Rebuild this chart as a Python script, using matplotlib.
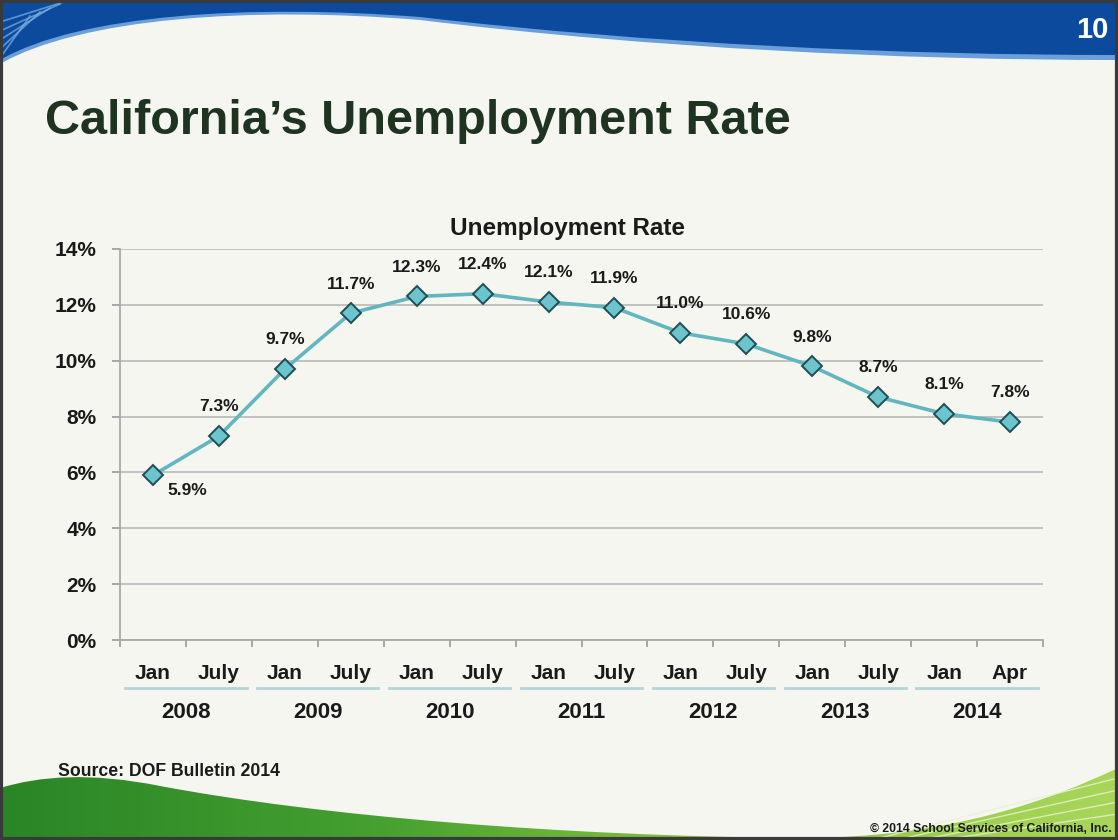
import matplotlib

matplotlib.use("Agg")

import numpy as np
import matplotlib.pyplot as plt
from matplotlib.path import Path
from matplotlib.patches import PathPatch, Rectangle
from matplotlib.colors import LinearSegmentedColormap

# data
months = ["Jan", "July", "Jan", "July", "Jan", "July", "Jan", "July",
          "Jan", "July", "Jan", "July", "Jan", "Apr"]
years = ["2008", "2009", "2010", "2011", "2012", "2013", "2014"]
rates = [5.9, 7.3, 9.7, 11.7, 12.3, 12.4, 12.1, 11.9, 11.0, 10.6, 9.8, 8.7, 8.1, 7.8]
yticks = [0, 2, 4, 6, 8, 10, 12, 14]

NARROW = ["Liberation Sans Narrow", "Liberation Sans", "DejaVu Sans"]
plt.rcParams["font.family"] = NARROW

W, H = 1118, 840
fig = plt.figure(figsize=(W / 100, H / 100), dpi=100, facecolor="#f6f6f1")

# slide decoration, in pixel coordinates
bg = fig.add_axes([0, 0, 1, 1], zorder=0)
bg.set_xlim(0, W)
bg.set_ylim(H, 0)
bg.axis("off")

M, C, L, Z = Path.MOVETO, Path.CURVE4, Path.LINETO, Path.CLOSEPOLY

# light blue under-band of the top swoosh
light = Path([(0, 0), (W, 0), (W, 60),
              (900, 60), (650, 48), (420, 20),
              (250, 6), (80, 18), (0, 64), (0, 0)],
             [M, L, L, C, C, C, C, C, C, Z])
bg.add_patch(PathPatch(light, facecolor="#6a9fda", edgecolor="none"))
blue = Path([(0, 0), (W, 0), (W, 55),
             (900, 55), (650, 44), (420, 17),
             (250, 4), (80, 14), (0, 60), (0, 0)],
            [M, L, L, C, C, C, C, C, C, Z])
bg.add_patch(PathPatch(blue, facecolor="#0c4a9e", edgecolor="none"))
for k in range(5):
    bg.plot([0, 70 - k * 10], [22 + k * 9, 0 + k * 4], color="#7fb3e6", lw=1.2, alpha=0.7)

# green bottom swoosh with a left-to-right gradient
green = Path([(0, H), (0, 788),
              (40, 776), (90, 772), (160, 786),
              (320, 816), (560, 836), (800, 838),
              (950, 838), (1050, 800), (W, 768),
              (W, H), (0, H)],
             [M, L, C, C, C, C, C, C, C, C, C, L, Z])
gpatch = PathPatch(green, facecolor="none", edgecolor="none")
bg.add_patch(gpatch)
cmap = LinearSegmentedColormap.from_list("g", ["#2a8527", "#45a030", "#8cc63f", "#a9d65a"])
grad = bg.imshow(np.linspace(0, 1, 256).reshape(1, -1), cmap=cmap, aspect="auto",
                 extent=[0, W, H, 760], zorder=1)
grad.set_clip_path(gpatch)
for k in range(4):
    bg.plot([880 + k * 25, W], [H - 2, 778 + k * 12], color="#e8f3d0", lw=1.0, alpha=0.8, zorder=2)

bg.add_patch(Rectangle((1, 1), W - 2, H - 2, facecolor="none", edgecolor="#3a3a3a", lw=3, zorder=3))

bg.text(1108, 30, "10", color="white", fontsize=21, fontweight="bold", ha="right", va="center")
bg.text(45, 134, "California\u2019s Unemployment Rate", color="#1f3321", fontsize=35,
        fontweight="bold", ha="left", va="baseline")
bg.text(567, 228, "Unemployment Rate", color="#1a1a1a", fontsize=17.5,
        fontweight="bold", ha="center", va="center")
bg.text(58, 772, "Source: DOF Bulletin 2014", color="#1a1a1a", fontsize=12.7,
        fontweight="bold", ha="left", va="center")
bg.text(1112, 829, "\u00a9 2014 School Services of California, Inc.", color="#1a1a1a",
        fontsize=8.8, fontweight="bold", ha="right", va="center", zorder=4)

# chart
ax = fig.add_axes([120 / W, 1 - 640 / H, 923 / W, (640 - 249) / H], zorder=1)
ax.set_facecolor("none")
x = np.arange(len(rates))
ax.plot(x, rates, color="#62b6bf", lw=2.6, marker="D", markersize=10.5,
        markerfacecolor="#6cc4cc", markeredgecolor="#1f4d54", markeredgewidth=1.4, zorder=3)

for i, v in enumerate(rates):
    if i == 0:
        ax.annotate(f"{v:.1f}%", (i, v), xytext=(25, -11), textcoords="offset points",
                    ha="center", va="center", fontsize=12.5, fontweight="bold", color="#1a1a1a")
    else:
        ax.annotate(f"{v:.1f}%", (i, v), xytext=(0, 21), textcoords="offset points",
                    ha="center", va="center", fontsize=12.5, fontweight="bold", color="#1a1a1a")

ax.set_xlim(-0.5, len(rates) - 0.5)
ax.set_ylim(0, 14)
ax.set_yticks(yticks)
ax.set_yticklabels([f"{t}%" for t in yticks], fontsize=15, fontweight="bold", color="#1a1a1a")
ax.yaxis.grid(True, color="#bdbdbd", lw=1.3)
ax.set_axisbelow(True)

ax.set_xticks(x)
ax.set_xticklabels(months, fontsize=15, fontweight="bold", color="#1a1a1a")
ax.set_xticks(np.arange(-0.5, len(rates), 1), minor=True)
ax.tick_params(axis="x", which="major", length=0, pad=17)
ax.tick_params(axis="x", which="minor", length=5, color="#9a9a9a", width=1.2)
ax.tick_params(axis="y", length=6, color="#9a9a9a", width=1.2, pad=11)

for s in ["top", "right"]:
    ax.spines[s].set_visible(False)
for s in ["left", "bottom"]:
    ax.spines[s].set_color("#a8a8a8")
    ax.spines[s].set_linewidth(1.3)

# year groups under each Jan/July pair
for j, yr in enumerate(years):
    ax.plot([2 * j - 0.42, 2 * j + 1.42], [-0.123, -0.123], transform=ax.get_xaxis_transform(),
            color="#b4d4d9", lw=2, clip_on=False)
    ax.text(2 * j + 0.5, -0.185, yr, transform=ax.get_xaxis_transform(), ha="center",
            va="center", fontsize=16, fontweight="bold", color="#1a1a1a")

fig.savefig("out.png", dpi=100, facecolor=fig.get_facecolor())
plt.close()
